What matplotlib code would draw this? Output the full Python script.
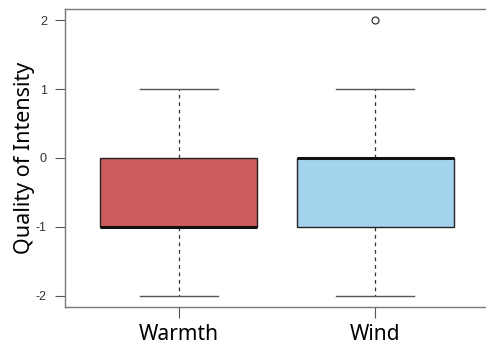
import matplotlib
matplotlib.use("Agg")
import matplotlib.pyplot as plt

groupes = ["Warmth", "Wind"]
q1 = [-1, -1]
medianes = [-1, 0]
q3 = [0, 0]
moustache_basse = [-2, -2]
moustache_haute = [1, 1]
aberrants = [[], [2]]
couleurs = ["#CD5C5C", "#A4D3EE"]

stats = []
for i, nom in enumerate(groupes):
    stats.append({
        "label": nom,
        "q1": q1[i],
        "med": medianes[i],
        "q3": q3[i],
        "whislo": moustache_basse[i],
        "whishi": moustache_haute[i],
        "fliers": aberrants[i],
    })

fig = plt.figure(figsize=(4.86, 3.48), dpi=100)
ax = fig.add_axes([65 / 486, 1 - 307 / 348, 424 / 486, 298 / 348])

bp = ax.bxp(
    stats,
    positions=[1, 2],
    widths=0.8,
    patch_artist=True,
    boxprops=dict(edgecolor="#222222", linewidth=1.0),
    medianprops=dict(color="#111111", linewidth=2.2),
    whiskerprops=dict(color="#333333", linewidth=0.9, linestyle=(0, (3, 3))),
    capprops=dict(color="#555555", linewidth=1.0),
    capwidths=0.4,
    flierprops=dict(marker="o", markerfacecolor="none", markeredgecolor="#333333",
                    markersize=5, markeredgewidth=0.9),
)
for patch, c in zip(bp["boxes"], couleurs):
    patch.set_facecolor(c)

ax.set_xlim(0.42, 2.58)
ax.set_ylim(-2.16, 2.16)
ax.set_yticks([-2, -1, 0, 1, 2])
ax.set_yticklabels(["-2", "-1", "0", "1", "2"], fontsize=9, color="#333333",
                   family="Liberation Sans")
ax.set_xticks([1, 2])
ax.set_xticklabels(groupes, fontsize=15, family="Noto Sans")
ax.tick_params(axis="both", direction="out", width=0.8, color="#555555")
ax.tick_params(axis="y", length=7, pad=6)
ax.tick_params(axis="x", length=8, pad=4)
for sp in ax.spines.values():
    sp.set_color("#777777")
    sp.set_linewidth(1.0)

ax.set_ylabel("Quality of Intensity", fontsize=15.5, family="Noto Sans", labelpad=1)

fig.savefig("out.png", dpi=100)
